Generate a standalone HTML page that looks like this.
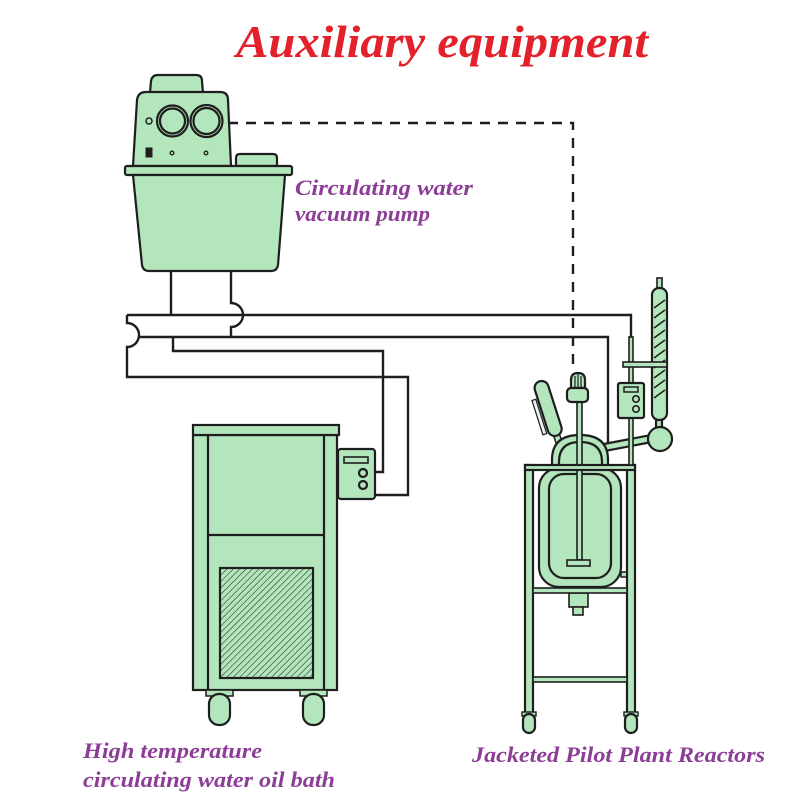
<!DOCTYPE html>
<html><head><meta charset="utf-8"><style>
html,body{margin:0;padding:0;background:#fff;}
svg{display:block;}
text{font-family:"Liberation Serif",serif;font-weight:bold;font-style:italic;}
</style></head><body>
<svg width="800" height="800" viewBox="0 0 800 800" xmlns="http://www.w3.org/2000/svg">
<defs>
<pattern id="hatch" patternUnits="userSpaceOnUse" width="4.5" height="4.5" patternTransform="rotate(45)">
<rect width="4.5" height="4.5" fill="#b3e6bc"/>
<line x1="0" y1="0" x2="0" y2="4.5" stroke="#2a3a2c" stroke-width="1.2"/>
</pattern>
</defs>
<rect width="800" height="800" fill="#fff"/>

<text x="236" y="57" font-size="46" fill="#e3212b" textLength="412" lengthAdjust="spacingAndGlyphs">Auxiliary equipment</text>

<g fill="none" stroke="#1e1e1e" stroke-width="2.4">
<!-- dashed vacuum line -->
<path d="M228,123 L573,123 L573,372" stroke-dasharray="10,8"/>
<!-- pump legs -->
<path d="M171,271 L171,315"/>
<path d="M231,271 L231,303 A12,12 0 0 1 231,327 L231,337"/>
<!-- upper band -->
<path d="M127,315 L631,315 L631,337"/>
<path d="M127,315 L127,323 A12,12 0 0 1 127,347 L127,377 L408,377 L408,495 L375,495"/>
<path d="M139,337 L608,337 L608,447"/>
<path d="M173,337 L173,351 L383,351 L383,472 L375,472"/>
</g>

<g stroke="#1e1e1e" stroke-width="2.2" fill="#b3e6bc">
<!-- PUMP -->
<path d="M150,93 L151,81 Q152,75 158,75 L196,75 Q202,75 202,81 L203,93 Z"/>
<path d="M133,166 L137,100 Q138,92 146,92 L220,92 Q228,92 228,100 L231,166 Z"/>
<circle cx="172.5" cy="121" r="15.5"/>
<circle cx="172.5" cy="121" r="12.5"/>
<circle cx="206.5" cy="121" r="16"/>
<circle cx="206.5" cy="121" r="13"/>
<circle cx="149" cy="121" r="3" stroke-width="1.5"/>
<rect x="146" y="148" width="6" height="9" fill="#1e1e1e" stroke-width="1"/>
<circle cx="172" cy="153" r="1.8" stroke-width="1.3"/>
<circle cx="206" cy="153" r="1.8" stroke-width="1.3"/>
<path d="M236,166 L236,158 Q236,154 240,154 L273,154 Q277,154 277,158 L277,166 Z"/>
<rect x="125" y="166" width="167" height="9" rx="2"/>
<path d="M133,175 L142,265 Q143,271 149,271 L271,271 Q277,271 278,265 L285,175 Z"/>

<!-- BATH -->
<rect x="193" y="435" width="144" height="255"/>
<rect x="193" y="425" width="146" height="10"/>
<line x1="208" y1="435" x2="208" y2="690"/>
<line x1="324" y1="435" x2="324" y2="690"/>
<line x1="208" y1="535" x2="324" y2="535"/>
<rect x="220" y="568" width="93" height="110" fill="url(#hatch)"/>
<rect x="206" y="690" width="27" height="6" stroke-width="1.5"/>
<rect x="209" y="694" width="21" height="31" rx="10"/>
<rect x="300" y="690" width="27" height="6" stroke-width="1.5"/>
<rect x="303" y="694" width="21" height="31" rx="10"/>
<rect x="338" y="449" width="37" height="50" rx="3"/>
<rect x="344" y="457" width="24" height="6" stroke-width="1.6"/>
<circle cx="363" cy="473" r="4"/>
<circle cx="363" cy="485" r="4"/>

<!-- REACTOR -->
<!-- funnel -->
<g transform="translate(548,408) rotate(-17.7)">
<rect x="-3" y="26" width="6" height="10" stroke-width="1.5"/>
<rect x="-7" y="-28" width="14" height="57" rx="7"/>
<rect x="-13" y="-12" width="4" height="36" fill="#e8f3ea" stroke-width="1.2"/>
</g>
<!-- condenser pipe & ball -->
<path d="M604,444 L651,435 L652,442 L605,451 Z"/>
<rect x="656" y="418" width="6" height="12"/>
<circle cx="660" cy="439" r="12"/>
<rect x="657" y="278" width="5" height="14" stroke-width="1.6"/>
<rect x="652" y="288" width="15" height="132" rx="7"/>
<g stroke-width="1.5">
<line x1="654" y1="308" x2="665" y2="300"/>
<line x1="654" y1="318" x2="665" y2="310"/>
<line x1="654" y1="328" x2="665" y2="320"/>
<line x1="654" y1="338" x2="665" y2="330"/>
<line x1="654" y1="348" x2="665" y2="340"/>
<line x1="654" y1="358" x2="665" y2="350"/>
<line x1="654" y1="368" x2="665" y2="360"/>
<line x1="654" y1="378" x2="665" y2="370"/>
<line x1="654" y1="388" x2="665" y2="380"/>
<line x1="654" y1="398" x2="665" y2="390"/>
</g>
<!-- dome -->
<path d="M552,468 L552,460 Q552,435 580,435 Q608,435 608,460 L608,468 Z"/>
<path d="M559,468 L559,462 Q559,442 580,442 Q602,442 602,462 L602,468 Z"/>
<!-- vessel -->
<rect x="539" y="468" width="82" height="119" rx="20"/>
<rect x="549" y="474" width="62" height="104" rx="15"/>
<rect x="621" y="572" width="6" height="5" stroke-width="1.5"/>
<!-- shaft & motor -->
<rect x="577" y="402" width="5" height="158" stroke-width="1.6"/>
<rect x="567" y="560" width="23" height="6" stroke-width="1.6"/>
<path d="M571,388 L571,380 Q571,373 578,373 Q585,373 585,380 L585,388 Z"/>
<g stroke-width="1.2"><line x1="575" y1="376" x2="575" y2="388"/><line x1="578" y1="374" x2="578" y2="388"/><line x1="581" y1="376" x2="581" y2="388"/></g>
<rect x="567" y="388" width="21" height="14" rx="4"/>
<!-- drain -->
<rect x="569" y="593" width="19" height="14" stroke-width="1.6"/>
<rect x="573" y="607" width="10" height="8" stroke-width="1.6"/>
<!-- frame -->
<rect x="525" y="465" width="8" height="255"/>
<rect x="627" y="465" width="8" height="255"/>
<rect x="525" y="465" width="110" height="5"/>
<rect x="533" y="588" width="94" height="5" stroke-width="1.6"/>
<rect x="533" y="677" width="94" height="5" stroke-width="1.6"/>
<rect x="522" y="712" width="14" height="4" stroke-width="1.4"/>
<rect x="523" y="714" width="12" height="19" rx="6"/>
<rect x="624" y="712" width="14" height="4" stroke-width="1.4"/>
<rect x="625" y="714" width="12" height="19" rx="6"/>
<!-- rod, clamp, controller -->
<rect x="629" y="337" width="4" height="128" stroke-width="1.6"/>
<rect x="623" y="362" width="44" height="5" stroke-width="1.6"/>
<rect x="618" y="383" width="26" height="35" rx="2"/>
<rect x="624" y="387" width="14" height="5" stroke-width="1.5"/>
<circle cx="636" cy="399" r="3.2" stroke-width="1.6"/>
<circle cx="636" cy="409" r="3.2" stroke-width="1.6"/>
</g>

<g fill="#8c3d96" font-size="22">
<text x="295" y="195" textLength="178" lengthAdjust="spacingAndGlyphs">Circulating water</text>
<text x="295" y="221" textLength="135" lengthAdjust="spacingAndGlyphs">vacuum pump</text>
<text x="83" y="758" textLength="179" lengthAdjust="spacingAndGlyphs">High temperature</text>
<text x="83" y="787" textLength="252" lengthAdjust="spacingAndGlyphs">circulating water oil bath</text>
<text x="472" y="762" textLength="293" lengthAdjust="spacingAndGlyphs">Jacketed Pilot Plant Reactors</text>
</g>
</svg>
</body></html>
